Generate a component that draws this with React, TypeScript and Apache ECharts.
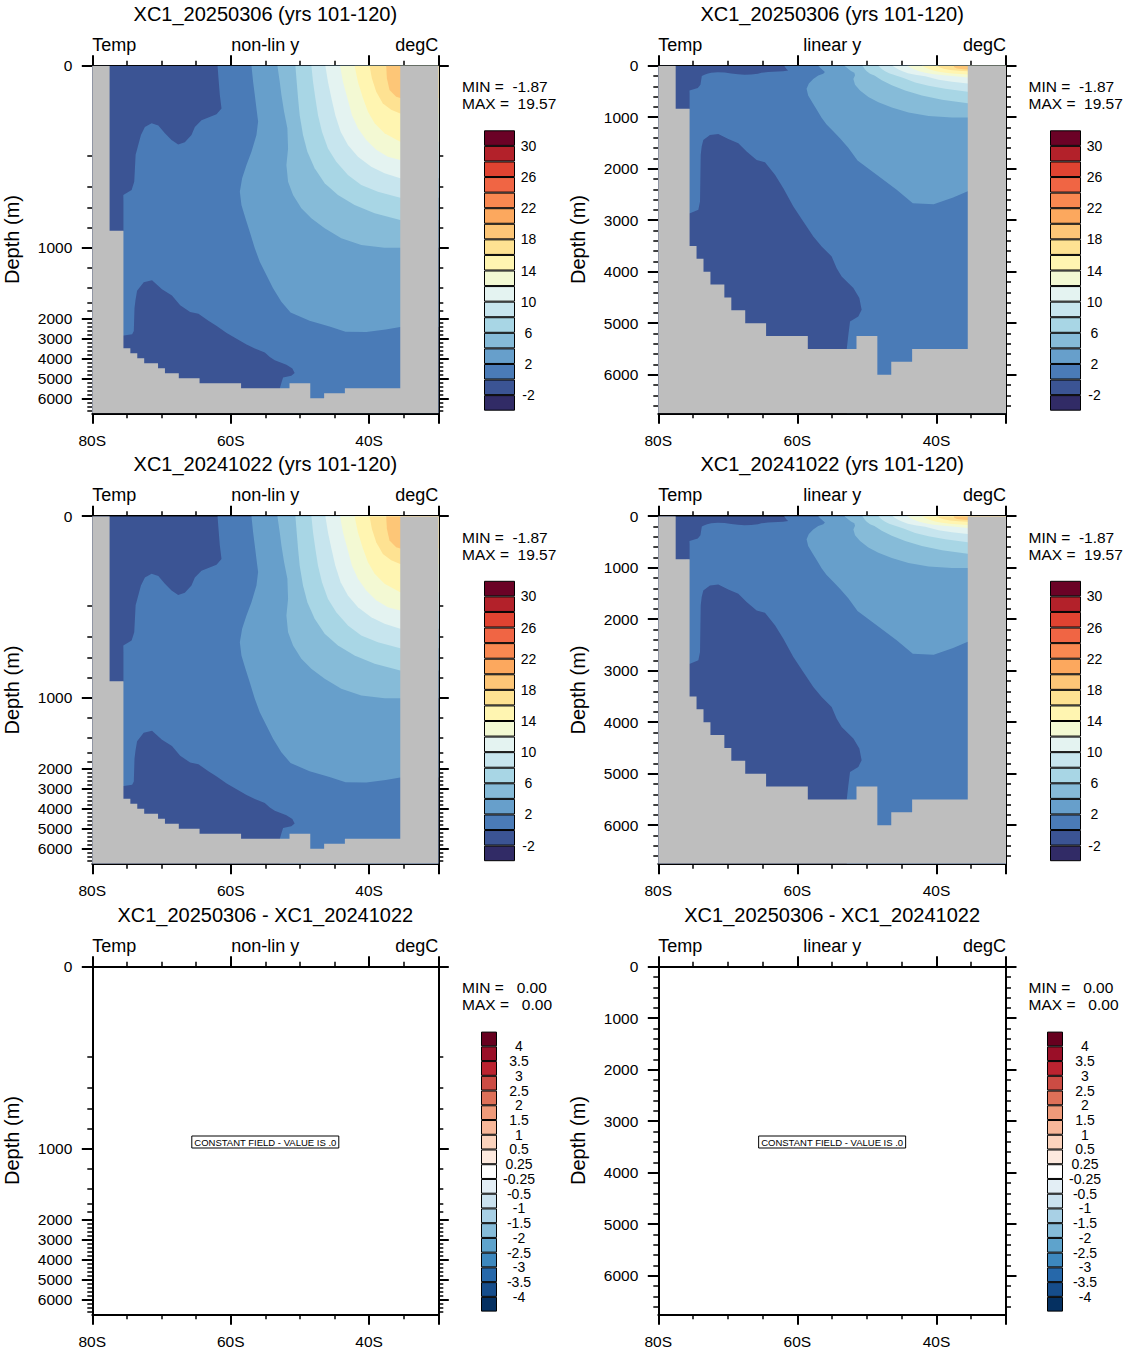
import React, { useEffect, useRef } from 'react';
import * as echarts from 'echarts';

const FONT = '"Liberation Sans", Arial, Helvetica, sans-serif';

// ---- contour levels and colour tables -------------------------------------
const TEMP_LEVELS = [-2, 0, 2, 4, 6, 8, 10, 12, 14, 16, 18, 20, 22, 24, 26, 28, 30];
// one colour per interval, coldest (< -2) first
const TEMP_COLORS = [
  '#312b66', '#3b5494', '#4a7bb7', '#679fcb', '#86bbd8', '#a8d6e5', '#c7e5ee', '#e4f3f1', '#f3f9d3',
  '#fff5b1', '#fee292', '#fdc677', '#fca85e', '#f98851', '#f06544', '#e04331', '#b3212a', '#6b0226',
];
const TEMP_LABEL_LEVELS = [-2, 2, 6, 10, 14, 18, 22, 26, 30];

const DIFF_LEVELS = [-4, -3.5, -3, -2.5, -2, -1.5, -1, -0.5, -0.25, 0.25, 0.5, 1, 1.5, 2, 2.5, 3, 3.5, 4];
// one colour per interval, most negative first
const DIFF_COLORS = [
  '#053061', '#164d8b', '#2668aa', '#3d88be', '#5ea3cc', '#86bcd9', '#a8d0e5', '#cae1ee', '#e3eef5',
  '#ffffff', '#fde9de', '#fbd3bd', '#f7b799', '#ef9a7a', '#de7058', '#cc4c44', '#bb2330', '#9a0f28', '#67001f',
];

// ---- case names and field statistics --------------------------------------
const CASES = ['XC1_20250306', 'XC1_20241022'];
const YEARS = 'yrs 101-120';
const TEMP_MIN = -1.87;
const TEMP_MAX = 19.57;
const DIFF_MIN = 0.0;
const DIFF_MAX = 0.0;

// ---- axes ------------------------------------------------------------------
const LAT_MIN = -80;
const LAT_MAX = -30;
const LAT_MAJOR = [-80, -60, -40, -30];
const LAT_MINOR = [-75, -70, -65, -55, -50, -45, -35];
const LAT_LABELS = [-80, -60, -40];

const MAX_DEPTH = 6750;
const DEPTH_MAJOR = [0, 1000, 2000, 3000, 4000, 5000, 6000];
const DEPTH_MINOR = [
  200, 400, 600, 800, 1200, 1400, 1600, 1800, 2200, 2400, 2600, 2800, 3200, 3400, 3600, 3800,
  4200, 4400, 4600, 4800, 5200, 5400, 5600, 5800, 6200, 6400, 6600,
];

// "non-lin y": model levels are equally spaced, so depth maps to position piecewise
const NONLIN_DEPTH = [0, 200, 400, 600, 800, 1000, 1200, 1400, 1600, 1800, 2000, 3000, 4000, 5000, 6000, 6750];
const NONLIN_POS = [0, 90, 121, 141.6, 161.6, 181.6, 202, 222, 236.6, 245.3, 252.6, 272.6, 292.6, 312.6, 332.6, 347.6];

// ---- bathymetry: bottom depth (m) between successive latitude edges --------
const BOTTOM_EDGES = [-80, -77.5, -75.5, -74.5, -73.5, -72.5, -70.5, -69.5, -67.5, -64.5, -58.5, -51.5, -48.5, -46.5, -43.5, -35.5, -30];
const BOTTOM_DEPTH = [0, 835, 3500, 3750, 4000, 4250, 4500, 4750, 5000, 5250, 5500, 5250, 6000, 5750, 5500, 0];

// ---- regions warmer than each contour level, [lat, depth] ------------------
const WARM_0: [number, number][] = [
  [-61.9, 0], [-30, 0], [-30, 6750], [-52.9, 6750], [-52.9, 5500],
  [-52.67, 5224], [-52.43, 4965], [-51.24, 4868], [-50.76, 4739], [-51.09, 4513], [-51.95, 4319],
  [-53.63, 4092], [-54.35, 3931], [-55.07, 3704], [-56.51, 3510], [-57.71, 3316], [-59.15, 3025],
  [-60.58, 2734], [-62.02, 2379], [-63.22, 2120], [-64.66, 1875], [-65.86, 1829], [-67.3, 1668],
  [-68.49, 1506], [-69.93, 1422], [-71.37, 1325], [-72.57, 1345], [-73.53, 1441], [-73.76, 1571],
  [-73.9, 1732], [-74.0, 2637], [-74.24, 2799], [-75.44, 2864],
  [-76, 2864], [-76, 840], [-75.5, 840], [-75.5, 546],
  [-75.52, 481], [-74.32, 432], [-73.94, 368], [-73.84, 281], [-73.74, 198], [-73.36, 176],
  [-72.97, 154], [-72.4, 136], [-71.43, 128], [-70.46, 133], [-69.51, 150], [-68.55, 165],
  [-67.59, 175], [-66.63, 170], [-65.67, 154], [-65.18, 136], [-64.22, 121], [-62.05, 108],
  [-61.33, 95], [-61.57, 65], [-61.8, 21],
];
const WARM_2: [number, number][] = [
  [-57.0, 0], [-56.76, 36], [-56.52, 65], [-56.28, 95], [-56.04, 124], [-56.28, 154], [-57.0, 191],
  [-57.72, 260], [-58.35, 346], [-58.68, 449], [-58.45, 578], [-57.87, 710], [-57.25, 844],
  [-56.52, 1010], [-55.8, 1141], [-54.84, 1273], [-53.88, 1408], [-52.68, 1592], [-51.35, 1840],
  [-48.6, 2120], [-45.72, 2411], [-43.4, 2670], [-40.4, 2690], [-37.6, 2560], [-35.5, 2440],
  [-30, 2440], [-30, 0],
];
const WARM_4: [number, number][] = [
  [-53.25, 0], [-52.91, 36], [-52.67, 65], [-52.29, 102], [-51.81, 139], [-51.71, 184], [-51.95, 260],
  [-51.71, 368], [-50.99, 481], [-49.79, 610], [-48.35, 710], [-46.42, 810], [-44.02, 910],
  [-41.13, 977], [-37.77, 1004], [-35.5, 1004], [-30, 1004], [-30, 0],
];
const WARM_6: [number, number][] = [
  [-50.65, 0], [-50.46, 36], [-50.27, 72], [-50.03, 110], [-49.55, 154], [-48.92, 191], [-47.87, 281],
  [-46.42, 378], [-44.5, 481], [-42.1, 578], [-39.2, 660], [-35.5, 727], [-30, 727], [-30, 0],
];
const WARM_8: [number, number][] = [
  [-48.34, 0], [-48.1, 36], [-47.77, 72], [-47.38, 110], [-46.81, 147], [-45.94, 184], [-44.74, 239],
  [-43.06, 324], [-41.13, 389], [-38.73, 449], [-35.5, 507], [-30, 507], [-30, 0],
];
const WARM_10: [number, number][] = [
  [-46.32, 0], [-45.94, 36], [-45.45, 72], [-44.88, 110], [-44.11, 147], [-43.06, 176], [-41.61, 206],
  [-39.69, 271], [-37.77, 314], [-35.5, 346], [-30, 346], [-30, 0],
];
const WARM_12: [number, number][] = [
  [-44.2, 0], [-43.77, 36], [-43.14, 72], [-42.47, 110], [-41.61, 139], [-40.41, 165], [-38.97, 187],
  [-37.29, 206], [-35.5, 228], [-30, 228], [-30, 0],
];
const WARM_14: [number, number][] = [
  [-42.1, 0], [-41.61, 36], [-40.89, 72], [-40.18, 102], [-39.2, 128], [-37.77, 150], [-35.5, 169],
  [-30, 169], [-30, 0],
];
const WARM_16: [number, number][] = [
  [-39.93, 0], [-39.6, 28], [-38.97, 58], [-38.01, 84], [-36.81, 98], [-35.5, 106], [-30, 106], [-30, 0],
];
const WARM_18: [number, number][] = [
  [-37.53, 0], [-37.43, 28], [-37.05, 54], [-36.09, 69], [-35.5, 72], [-30, 72], [-30, 0],
];
const WARM_REGIONS = [WARM_0, WARM_2, WARM_4, WARM_6, WARM_8, WARM_10, WARM_12, WARM_14, WARM_16, WARM_18];
const WARM_LEVELS = [0, 2, 4, 6, 8, 10, 12, 14, 16, 18];

// ---- page layout -----------------------------------------------------------
const COL_LEFT = [92.3, 658.3];
const COL_WIDTH = [346, 347.7];
const PLOT_TOP = 65.7;
const PLOT_HEIGHT = 347.6;
const ROW_STEP = 450.5;
const DEPTH_NAME_X = [11.5, 578];
const STATS_X = [462, 1028.5];
const TEMP_BAR = { left: [484, 1050], width: 31, top: 130.3, height: 280.4 };
const DIFF_BAR = { left: [481, 1047], width: 16, top: 130.6, height: 280 };
const LAND_COLOR = '#bebebe';

function nonLinPos(d: number): number {
  for (let i = 1; i < NONLIN_DEPTH.length; i++) {
    if (d <= NONLIN_DEPTH[i]) {
      const f = (d - NONLIN_DEPTH[i - 1]) / (NONLIN_DEPTH[i] - NONLIN_DEPTH[i - 1]);
      return NONLIN_POS[i - 1] + f * (NONLIN_POS[i] - NONLIN_POS[i - 1]);
    }
  }
  return NONLIN_POS[NONLIN_POS.length - 1];
}
const linearPos = (d: number) => d;

function landPolygon(): [number, number][] {
  const pts: [number, number][] = [[BOTTOM_EDGES[0], MAX_DEPTH]];
  for (let i = 0; i < BOTTOM_DEPTH.length; i++) {
    pts.push([BOTTOM_EDGES[i], BOTTOM_DEPTH[i]], [BOTTOM_EDGES[i + 1], BOTTOM_DEPTH[i]]);
  }
  pts.push([BOTTOM_EDGES[BOTTOM_EDGES.length - 1], MAX_DEPTH]);
  return pts;
}

function statText(v: number): string {
  return v.toFixed(2).padStart(6, '\u00a0');
}

function text(x: number, y: number, str: string, size: number, align: string, extra: any = {}) {
  return {
    type: 'text',
    x,
    y,
    z: 10,
    silent: true,
    ...extra,
    style: {
      text: str,
      fill: '#000',
      font: `${size}px ${FONT}`,
      textAlign: align,
      align,
      textVerticalAlign: 'middle',
      verticalAlign: 'middle',
    },
  };
}

function buildOption() {
  const grid: any[] = [];
  const xAxis: any[] = [];
  const yAxis: any[] = [];
  const series: any[] = [];
  const graphic: any[] = [];

  const frameLine = { show: true, onZero: false, lineStyle: { color: '#000', width: 2 } };
  const tickLabel = { color: '#000', fontFamily: FONT, fontSize: 15.5 };
  const majorTick = (values: number[]) => ({
    show: true, inside: false, length: 10.5, customValues: values, lineStyle: { color: '#000', width: 2 },
  });
  const minorTick = (values: number[]) => ({
    show: true, inside: false, length: 5, customValues: values, lineStyle: { color: '#000', width: 1.5 },
  });

  const land = landPolygon();
  const fullDomain: [number, number][] = [[LAT_MIN, 0], [LAT_MAX, 0], [LAT_MAX, MAX_DEPTH], [LAT_MIN, MAX_DEPTH]];
  const layers = [
    { pts: fullDomain, color: TEMP_COLORS[TEMP_LEVELS.indexOf(-2) + 1] },
    ...WARM_REGIONS.map((pts, k) => ({ pts, color: TEMP_COLORS[TEMP_LEVELS.indexOf(WARM_LEVELS[k]) + 1] })),
    { pts: land, color: LAND_COLOR },
  ];

  const titles = [
    `${CASES[0]} (${YEARS})`,
    `${CASES[1]} (${YEARS})`,
    `${CASES[0]} - ${CASES[1]}`,
  ];

  for (let row = 0; row < 3; row++) {
    for (let col = 0; col < 2; col++) {
      const nonLin = col === 0;
      const conv = nonLin ? nonLinPos : linearPos;
      const left = COL_LEFT[col];
      const width = COL_WIDTH[col];
      const top = PLOT_TOP + ROW_STEP * row;
      const isDiff = row === 2;

      // ---- section panel ----
      const gi = grid.length;
      grid.push({ left, top, width, height: PLOT_HEIGHT, containLabel: false, outerBoundsMode: 'none', show: false });

      const xi = xAxis.length;
      const xCommon = { type: 'value', gridIndex: gi, min: LAT_MIN, max: LAT_MAX, splitLine: { show: false }, axisLine: frameLine };
      xAxis.push({
        ...xCommon, position: 'bottom', axisTick: majorTick(LAT_MAJOR),
        axisLabel: { ...tickLabel, margin: 19, customValues: LAT_LABELS, formatter: (v: number) => `${Math.abs(v)}S` },
      });
      xAxis.push({ ...xCommon, position: 'bottom', axisLine: { ...frameLine, show: false }, axisTick: minorTick(LAT_MINOR), axisLabel: { show: false } });
      xAxis.push({ ...xCommon, position: 'top', axisTick: majorTick(LAT_MAJOR), axisLabel: { show: false } });
      xAxis.push({ ...xCommon, position: 'top', axisLine: { ...frameLine, show: false }, axisTick: minorTick(LAT_MINOR), axisLabel: { show: false } });

      const yi = yAxis.length;
      const majorPos = DEPTH_MAJOR.map(conv);
      const minorPos = DEPTH_MINOR.map(conv);
      const yCommon = {
        type: 'value', gridIndex: gi, min: 0, max: conv(MAX_DEPTH), inverse: true,
        splitLine: { show: false }, axisLine: frameLine,
      };
      yAxis.push({
        ...yCommon, position: 'left', axisTick: majorTick(majorPos),
        axisLabel: {
          ...tickLabel, margin: 20, customValues: majorPos,
          formatter: (v: number) => {
            const k = majorPos.findIndex((p) => Math.abs(p - v) < 1e-6);
            return k >= 0 ? String(DEPTH_MAJOR[k]) : '';
          },
        },
      });
      yAxis.push({ ...yCommon, position: 'left', axisLine: { ...frameLine, show: false }, axisTick: minorTick(minorPos), axisLabel: { show: false } });
      yAxis.push({ ...yCommon, position: 'right', axisTick: majorTick(majorPos), axisLabel: { show: false } });
      yAxis.push({ ...yCommon, position: 'right', axisLine: { ...frameLine, show: false }, axisTick: minorTick(minorPos), axisLabel: { show: false } });

      if (!isDiff) {
        series.push({
          type: 'custom',
          coordinateSystem: 'cartesian2d',
          xAxisIndex: xi,
          yAxisIndex: yi,
          clip: true,
          silent: true,
          data: layers.map((_, k) => [-55, 0, k]),
          renderItem: (params: any, api: any) => {
            const layer = layers[params.dataIndex];
            return {
              type: 'polygon',
              shape: { points: layer.pts.map(([lat, d]) => api.coord([lat, conv(d)])) },
              style: { fill: layer.color },
            };
          },
        });
      }

      // ---- colour bar ----
      const bar = isDiff ? DIFF_BAR : TEMP_BAR;
      const colors = isDiff ? DIFF_COLORS : TEMP_COLORS;
      const levels = isDiff ? DIFF_LEVELS : TEMP_LEVELS;
      const labelLevels = isDiff ? DIFF_LEVELS : TEMP_LABEL_LEVELS;
      const cbGrid = grid.length;
      grid.push({
        left: bar.left[col], top: bar.top + ROW_STEP * row, width: bar.width, height: bar.height,
        containLabel: false, outerBoundsMode: 'none', show: false,
      });
      const cbX = xAxis.length;
      xAxis.push({ type: 'category', gridIndex: cbGrid, data: ['bar'], show: false });
      const cbY = yAxis.length;
      yAxis.push({
        type: 'value', gridIndex: cbGrid, min: 0, max: colors.length, position: 'right',
        axisLine: { show: false, onZero: false }, axisTick: { show: false }, splitLine: { show: false },
        axisLabel: {
          color: '#000', fontFamily: FONT, fontSize: 14, align: 'center', margin: isDiff ? 22 : 13.5,
          customValues: labelLevels.map((lv) => levels.indexOf(lv) + 1),
          formatter: (v: number) => String(levels[Math.round(v) - 1]),
        },
      });
      colors.forEach((c) => {
        series.push({
          type: 'bar', stack: `cb${cbGrid}`, xAxisIndex: cbX, yAxisIndex: cbY, data: [1],
          barWidth: '100%', silent: true,
          itemStyle: { color: c, borderColor: '#000', borderWidth: 1 },
        });
      });

      // ---- texts ----
      const cx = left + width / 2;
      const dy = ROW_STEP * row;
      graphic.push(text(cx, 13.7 + dy, titles[row], 20, 'center'));
      graphic.push(text(left, 44.5 + dy, 'Temp', 18, 'left'));
      graphic.push(text(cx, 44.5 + dy, nonLin ? 'non-lin y' : 'linear y', 18, 'center'));
      graphic.push(text(left + width, 44.5 + dy, 'degC', 18, 'right'));
      graphic.push(text(DEPTH_NAME_X[col], top + PLOT_HEIGHT / 2, 'Depth (m)', 20, 'center', { rotation: Math.PI / 2 }));
      const vMin = isDiff ? DIFF_MIN : TEMP_MIN;
      const vMax = isDiff ? DIFF_MAX : TEMP_MAX;
      graphic.push(text(STATS_X[col], 86.5 + dy, `MIN =\u00a0${statText(vMin)}`, 15.5, 'left'));
      graphic.push(text(STATS_X[col], 103.8 + dy, `MAX =\u00a0${statText(vMax)}`, 15.5, 'left'));

      if (isDiff) {
        const cy = top + 175.3;
        graphic.push({
          type: 'group',
          z: 10,
          children: [
            {
              type: 'rect', silent: true,
              shape: { x: cx - 73.5, y: cy - 6, width: 147, height: 12 },
              style: { fill: '#fff', stroke: '#000', lineWidth: 1 },
            },
            text(cx, cy, 'CONSTANT FIELD - VALUE IS .0', 9.5, 'center'),
          ],
        });
      }
    }
  }

  return {
    animation: false,
    backgroundColor: '#fff',
    grid,
    xAxis,
    yAxis,
    series,
    graphic: { elements: graphic },
  };
}

export default function App() {
  const ref = useRef<HTMLDivElement>(null);
  useEffect(() => {
    if (!ref.current) return;
    const chart = echarts.init(ref.current, null, { renderer: 'svg' });
    chart.setOption(buildOption() as any);
    return () => chart.dispose();
  }, []);
  return (
    <div
      ref={ref}
      style={{ position: 'absolute', left: 0, top: 0, width: 1130, height: 1354, background: '#fff' }}
    />
  );
}
